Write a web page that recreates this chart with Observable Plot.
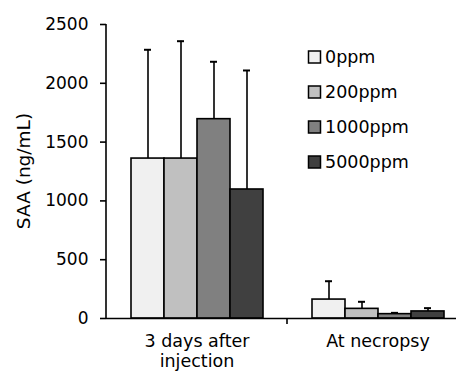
<!DOCTYPE html>
<html>
<head>
<meta charset="utf-8">
<script src="https://cdn.jsdelivr.net/npm/d3@7"></script>
<script src="https://cdn.jsdelivr.net/npm/@observablehq/plot@0.6"></script>
<style>
  html, body { margin: 0; padding: 0; background: #fff; }
  #chart { position: relative; width: 456px; height: 376px; font-family: "DejaVu Sans", sans-serif; }
</style>
</head>
<body>
<div id="chart"></div>
<script>
const groups = ["3 days after\ninjection", "At necropsy"];
const doses = ["0ppm", "200ppm", "1000ppm", "5000ppm"];
const colors = ["#f0f0f0", "#c0c0c0", "#808080", "#404040"];
const meanDay3 = [1360, 1360, 1695, 1097];
const upperDay3 = [2285, 2358, 2183, 2109];
const meanNecropsy = [161, 82, 37, 60];
const upperNecropsy = [317, 142, 48, 88];
const yTicks = [0, 500, 1000, 1500, 2000, 2500];

const data = [];
doses.forEach((d, i) => {
  data.push({group: groups[0], dose: d, mean: meanDay3[i], upper: upperDay3[i]});
  data.push({group: groups[1], dose: d, mean: meanNecropsy[i], upper: upperNecropsy[i]});
});

const font = "DejaVu Sans, sans-serif";

const plot = Plot.plot({
  width: 456,
  height: 376,
  marginLeft: 106,
  marginRight: -12,
  marginTop: 24,
  marginBottom: 58,
  style: {fontFamily: font, fontSize: "17px", color: "#000", background: "#fff", overflow: "hidden"},
  fx: {domain: groups, padding: 0, label: null},
  x: {domain: doses, paddingInner: 0, paddingOuter: 0.74, axis: null},
  y: {domain: [0, 2500], label: null},
  color: {domain: doses, range: colors},
  marks: [
    Plot.ruleX(data, {fx: "group", x: "dose", y1: "mean", y2: "upper", stroke: "#000", strokeWidth: 1.6}),
    Plot.tickY(data, {fx: "group", x: "dose", y: "upper", stroke: "#000", strokeWidth: 2, insetLeft: 13, insetRight: 13}),
    Plot.barY(data, {fx: "group", x: "dose", y: "mean", fill: "dose", stroke: "#000", strokeWidth: 1.6}),
    Plot.ruleY([0], {stroke: "#000", strokeWidth: 1.6}),
    Plot.axisY({ticks: yTicks, tickSize: 6, tickPadding: 12, fontSize: 17, tickFormat: d => String(d), strokeWidth: 1.6, label: null}),
    Plot.axisFx({anchor: "bottom", tickSize: 0, tickPadding: 14, fontSize: 17.5, label: null, lineHeight: 1.15})
  ]
});

document.getElementById("chart").appendChild(plot);

// Additional decorations from the plot's scales
const svg = d3.select(plot);
const ys = plot.scale("y");
const fxs = plot.scale("fx");
const y0 = ys.apply(0), yTop = ys.apply(2500);
const x0 = 106;
svg.append("line").attr("x1", x0).attr("x2", x0).attr("y1", yTop).attr("y2", y0)
  .attr("stroke", "#000").attr("stroke-width", 1.6);
const xb = fxs.apply(groups[1]);
svg.append("line").attr("x1", xb).attr("x2", xb).attr("y1", y0).attr("y2", y0 + 6)
  .attr("stroke", "#000").attr("stroke-width", 1.6);

// y-axis title
svg.append("text").attr("transform", `translate(24,${(y0 + yTop) / 2}) rotate(-90)`)
  .attr("text-anchor", "middle").attr("dy", "0.35em")
  .attr("font-size", 18.5).attr("font-family", font).attr("fill", "#000").text("SAA (ng/mL)");

// legend
const lg = svg.append("g").attr("text-anchor", "start");
doses.forEach((d, i) => {
  const yy = 57 + i * 35;
  lg.append("rect").attr("x", 308.5).attr("y", yy - 6).attr("width", 12).attr("height", 12)
    .attr("fill", colors[i]).attr("stroke", "#000").attr("stroke-width", 1.5);
  lg.append("text").attr("x", 325).attr("y", yy).attr("dy", "0.36em").attr("text-anchor", "start")
    .attr("font-size", 17.5).attr("font-family", font).attr("fill", "#000").text(d);
});
</script>
</body>
</html>
